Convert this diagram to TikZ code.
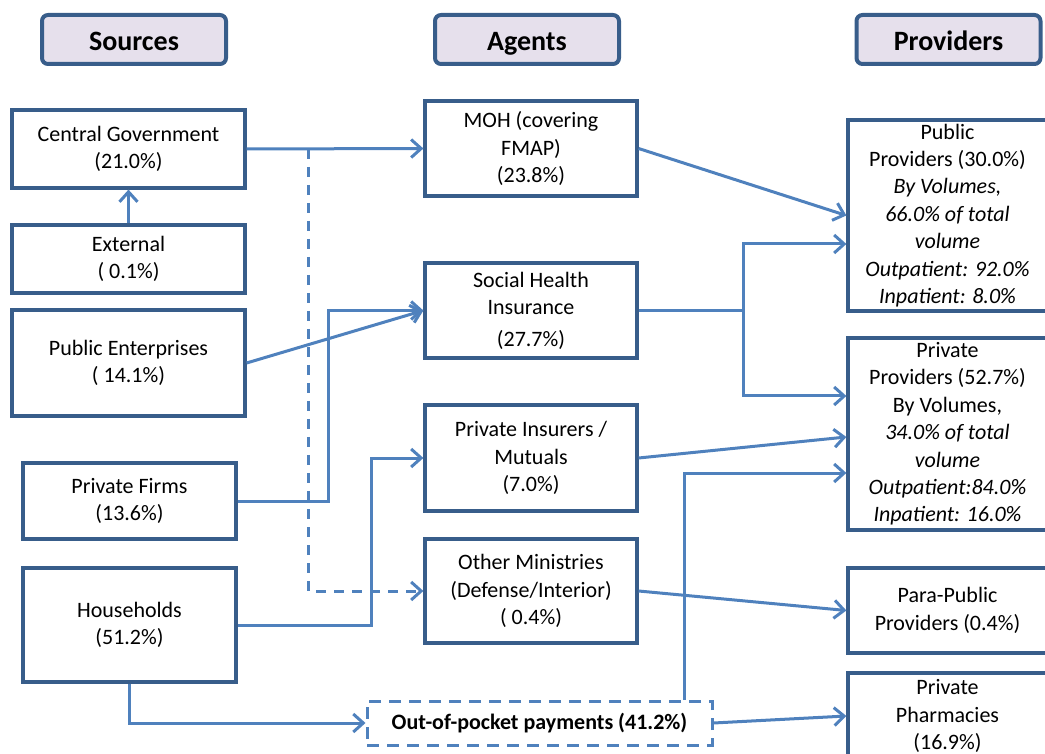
\documentclass[tikz,border=0pt]{standalone}
\usepackage{fontspec}
\setmainfont{Carlito}
\usepackage{tikz}
\usetikzlibrary{arrows.meta,positioning,calc}

\definecolor{boxblue}{RGB}{56,93,138}
\definecolor{flowblue}{RGB}{79,129,189}
\definecolor{headfill}{RGB}{230,224,236}

\begin{document}
\begin{tikzpicture}[x=0.5pt,y=-0.5pt,>={Straight Barb[length=5pt,width=9pt]},semithick]
  \tikzstyle{every node}=[font=\fontsize{11}{13.7}\selectfont,align=center,inner sep=0pt]
  \tikzstyle{block}=[draw=boxblue,line width=1.6pt,rectangle]
  \tikzstyle{heading}=[block,rounded corners=3pt,fill=headfill,line width=2pt,minimum width=92pt,minimum height=24.5pt,text height=13pt,text depth=1.5pt,font=\fontsize{14}{16}\selectfont\bfseries]
  \tikzstyle{source}=[block,minimum width=116.5pt]
  \tikzstyle{agent}=[block,minimum width=106pt]
  \tikzstyle{provider}=[block,minimum width=99.5pt]
  \tikzstyle{flow}=[draw=flowblue,line width=1.5pt,->]
  \tikzstyle{flowdash}=[flow,dash pattern=on 5pt off 4pt]
\useasboundingbox (0,0) rectangle (1045,754);
\clip (0,0) rectangle (1045,754);
\node[heading] (hsrc) at (134,39.5) {Sources};
\node[heading] (hagt) at (527,39.5) {Agents};
\node[heading] (hprv) at (948.5,39.5) {Providers};
\node[source,minimum height=39pt] (cg) at (128.5,149) {Central Government\\(21.0\%)};
\node[source,minimum height=34pt] (ext) at (128.5,259) {External\\( 0.1\%)};
\node[source,minimum height=53pt] (pe) at (128.5,363) {Public Enterprises\\( 14.1\%)};
\node[source,minimum width=106.5pt,minimum height=38pt] (pf) at (129.5,501) {Private Firms\\(13.6\%)};
\node[source,minimum width=106.5pt,minimum height=57pt] (hh) at (129.5,625) {Households\\(51.2\%)};
\node[agent,minimum height=47.5pt] (moh) at (531,148.5) {MOH (covering\\FMAP)\\(23.8\%)};
\node[agent,minimum height=47.5pt] (shi) at (531,310.5) {Social Health\\Insurance\\[2pt](27.7\%)};
\node[agent,minimum height=53pt] (pi) at (531,458) {Private Insurers /\\Mutuals\\(7.0\%)};
\node[agent,minimum height=52pt] (om) at (531,591) {Other Ministries\\(Defense/Interior)\\( 0.4\%)};
\node[draw=flowblue,line width=1.5pt,dash pattern=on 6pt off 4pt,minimum width=172.5pt,minimum height=22pt,font=\fontsize{11}{13.7}\selectfont\bfseries] (oop) at (539.5,723) {Out-of-pocket payments (41.2\%)};
\node[provider,minimum height=95.5pt] (pub) at (947.5,215.5) {Public\\Providers (30.0\%)\\\textit{By Volumes,}\\\textit{66.0\% of total}\\\textit{volume}\\\textit{Outpatient: 92.0\%}\\\textit{Inpatient: 8.0\%}};
\node[provider,minimum height=96pt] (priv) at (947.5,434) {Private\\Providers (52.7\%)\\By Volumes,\\\textit{34.0\% of total}\\\textit{volume}\\\textit{Outpatient:84.0\%}\\\textit{Inpatient: 16.0\%}};
\node[provider,minimum height=42.5pt] (para) at (947.5,610.5) {Para-Public\\Providers (0.4\%)};
\node[provider,minimum height=43pt] (phar) at (947.5,716) {Private\\Pharmacies\\(16.9\%)};
\coordinate (govsplit) at (308,149);
\coordinate (shisplit) at ($(shi.east)+(105,0)$);
\draw[flow] (ext) -- (cg);
\draw[flow] (cg.east) -- (moh.west);
\draw[flowdash] (govsplit) |- (om.west);
\draw[flow] (pe.east) -- (shi.west);
\draw[flow] (pf.east) -| ($(shi.west)+(-95,0)$) -- (shi.west);
\draw[flow] (hh.east) -| ($(pi.west)+(-52,0)$) -- (pi.west);
\draw[flow] (hh.south) |- (oop.west);
\draw[flow] (moh.east) -- (pub.west);
\draw[flow] (shi.east) -- (shisplit) |- ($(pub.west)+(0,28.5)$);
\draw[flow] (shisplit) |- ($(priv.west)+(0,-38)$);
\draw[flow] (pi.east) -- ($(priv.west)+(0,3)$);
\draw[flow] ($(oop.north)+(145,0)$) |- ($(priv.west)+(0,39)$);
\draw[flow] (om.east) -- (para.west);
\draw[flow] (oop.east) -- (phar.west);
\end{tikzpicture}
\end{document}
